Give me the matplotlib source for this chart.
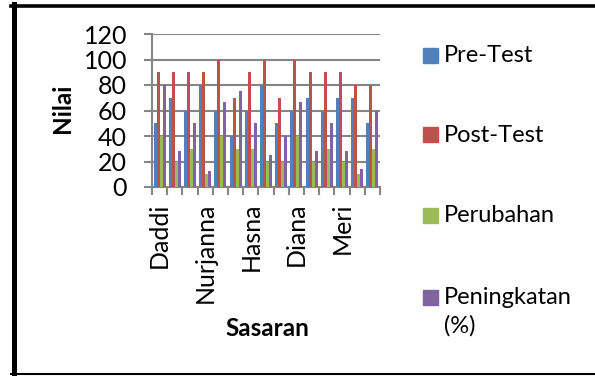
import numpy as np
import matplotlib
matplotlib.use('Agg')
from matplotlib import pyplot as plt
from matplotlib.patches import Rectangle
from matplotlib.lines import Line2D

# data
kategori = ['Daddi', '', '', 'Nurjanna', '', '', 'Hasna', '', '', 'Diana', '', '', 'Meri', '', '']
pre_test = [50, 70, 60, 80, 60, 40, 60, 80, 50, 60, 70, 60, 70, 70, 50]
post_test = [90, 90, 90, 90, 100, 70, 90, 100, 70, 100, 90, 90, 90, 80, 80]
perubahan = [40, 20, 30, 10, 40, 30, 30, 20, 20, 40, 20, 30, 20, 10, 30]
peningkatan = [80, 28.6, 50, 12.5, 66.7, 75, 50, 25, 40, 66.7, 28.6, 50, 28.6, 14.3, 60]

seri = [pre_test, post_test, perubahan, peningkatan]
nama = ['Pre-Test', 'Post-Test', 'Perubahan', 'Peningkatan\n(%)']
warna = ['#4F81BD', '#C0504D', '#9BBB59', '#8064A2']

plt.rcParams['font.family'] = ['Lato', 'DejaVu Sans']

W, H = 595, 376
fig = plt.figure(figsize=(W/100, H/100), dpi=100)
ax = fig.add_axes([152/W, 1 - 187/H, (380-152)/W, (187-34)/H])

x = np.arange(len(kategori))
lebar = 0.2
for i, s in enumerate(seri):
    ax.bar(x - 0.3 + i*lebar, s, width=lebar, color=warna[i], zorder=3)

ax.set_xlim(-0.5, len(kategori) - 0.5)
ax.set_ylim(0, 120)
ax.set_yticks(range(0, 121, 20))
ax.set_xticks(np.arange(-0.5, len(kategori), 1))
ax.set_xticklabels([])
ax.set_xticks(x, minor=True)
ax.set_xticklabels(kategori, minor=True, rotation=90, fontsize=18)
ax.tick_params(axis='x', which='minor', length=0, pad=11)
ax.tick_params(axis='x', which='major', length=6, color='#868686', width=1.5)
ax.tick_params(axis='y', length=6, color='#868686', width=1.5, labelsize=18, pad=12)
ax.grid(axis='y', color='#868686', linewidth=1.5, zorder=0)
for k in ['top', 'right']:
    ax.spines[k].set_visible(False)
for k in ['left', 'bottom']:
    ax.spines[k].set_color('#868686')
    ax.spines[k].set_linewidth(1.5)

fig.text(63/W, 1 - 108/H, 'Nilai', fontsize=17.5, fontweight='bold', rotation=90,
         ha='center', va='center')
fig.text(267/W, 1 - 329/H, 'Sasaran', fontsize=17.5, fontweight='bold', ha='center', va='center')

# legenda manual (kotak sejajar baris pertama)
ly = [55, 135, 215, 297]
for i in range(len(seri)):
    fig.patches.append(Rectangle((423/W, 1 - (ly[i] + 7.5)/H), 15/W, 15/H,
                                 transform=fig.transFigure, color=warna[i]))
    fig.text(444/W, 1 - (ly[i] - 10)/H, nama[i], fontsize=17, ha='left', va='top',
             linespacing=1.4)

# bingkai luar
fig.lines.append(Line2D([13.5/W, 13.5/W], [1 - 4/H, 1 - 375/H], transform=fig.transFigure,
                        color='black', linewidth=3.6))
fig.lines.append(Line2D([11/W, 1], [1 - 5.5/H, 1 - 5.5/H], transform=fig.transFigure,
                        color='black', linewidth=2.6))
fig.lines.append(Line2D([11/W, 1], [1 - 374/H, 1 - 374/H], transform=fig.transFigure,
                        color='black', linewidth=1.5))

fig.savefig('out.png', dpi=100)
